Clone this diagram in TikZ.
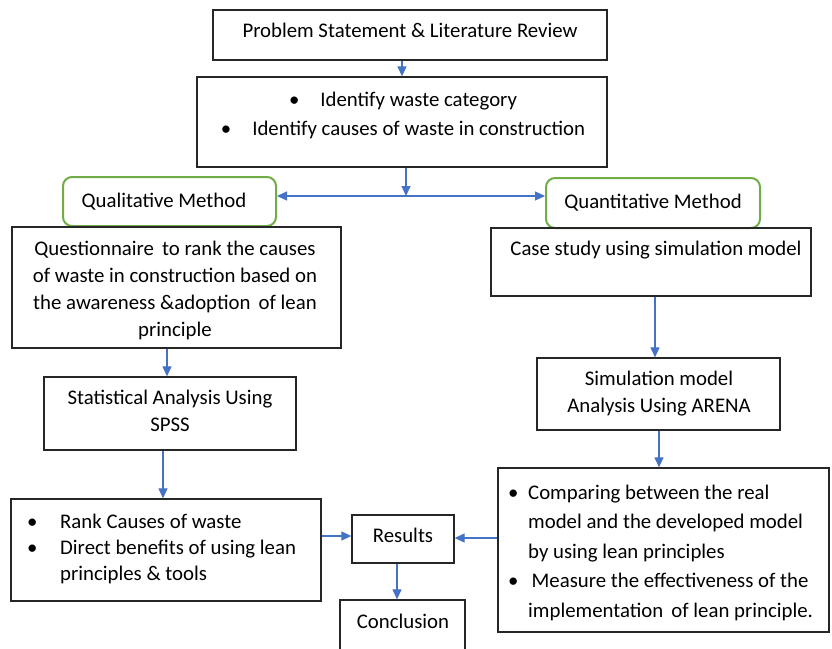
\documentclass[tikz,border=0pt]{standalone}
\usepackage{fontspec}
\setmainfont{Carlito}
\usetikzlibrary{arrows.meta}
\definecolor{flowblue}{HTML}{4472C4}
\definecolor{methodgreen}{HTML}{70AD47}
\tikzset{
  box/.style={draw=black!85, line width=1.3pt, inner sep=0pt},
  method/.style={draw=methodgreen, line width=2pt, rounded corners=9pt, inner sep=0pt},
  txt/.style={inner sep=0pt, font=\fontsize{20.8}{27}\selectfont, align=center},
  arr/.style={draw=flowblue, line width=1.2pt, -{Triangle[length=10pt,width=9pt]}},
  darr/.style={draw=flowblue, line width=1.2pt, {Triangle[length=10pt,width=9pt]}-{Triangle[length=10pt,width=9pt]}}
}
\begin{document}
\begin{tikzpicture}[x=1pt,y=-1pt]
\useasboundingbox (0,0) rectangle (832,648);

% boxes
\node[box, minimum width=394, minimum height=50] (prob) at (410,35) {};
\node[box, minimum width=410, minimum height=90] (ident) at (402,122) {};
\node[method, minimum width=213, minimum height=49] (qual) at (169.5,201.5) {};
\node[method, minimum width=214, minimum height=50] (quant) at (653,203) {};
\node[box, minimum width=329, minimum height=121] (quest) at (176.5,287.5) {};
\node[box, minimum width=320, minimum height=68] (case) at (651,262) {};
\node[box, minimum width=243, minimum height=72] (sim) at (658.5,394) {};
\node[box, minimum width=252, minimum height=73] (stat) at (170,413.5) {};
\node[box, minimum width=310, minimum height=102] (rank) at (166,550) {};
\node[box, minimum width=102, minimum height=48] (res) at (403,539) {};
\node[box, minimum width=331, minimum height=164] (comp) at (663.5,550) {};
\node[box, minimum width=125, minimum height=60] (concl) at (402.5,630) {};

% texts
\node[txt] (probt) at (410,30) {Problem Statement \& Literature Review};
\node[txt, font=\fontsize{20.8}{29}\selectfont] (identt) at (403,115)
  {\textbullet\hspace{21pt}Identify waste category\\
   \textbullet\hspace{21pt}Identify causes of waste in construction};
\node[txt] (qualt) at (164,201.5) {Qualitative Method};
\node[txt] (quantt) at (653,202.5) {Quantitative Method};
\node[txt] (questt) at (175,290)
  {Questionnaire\, to rank the causes\\ of waste in construction based on\\
   the awareness \&adoption\, of lean\\ principle};
\node[txt] (caset) at (656,250) {Case study using simulation model};
\node[txt] (simt) at (659,394) {Simulation model\\ Analysis Using ARENA};
\node[txt] (statt) at (170,411) {Statistical Analysis Using\\ SPSS};
\node[txt, anchor=north west, font=\fontsize{20.8}{26}\selectfont] (rankt) at (27,510)
  {\begin{tabular}{@{}p{33pt}@{}l@{}}
   \textbullet & Rank Causes of waste\\
   \textbullet & Direct benefits of using lean\\
               & principles \& tools
   \end{tabular}};
\node[txt] (rest) at (403,535) {Results};
\node[txt, anchor=north west, font=\fontsize{20.8}{29.5}\selectfont] (compt) at (508,478.5)
  {\begin{tabular}{@{}p{20pt}@{}l@{}}
   \textbullet & Comparing between the real\\
               & model and the developed model\\
               & by using lean principles\\
   \textbullet & \,Measure the effectiveness of the\\
               & implementation\, of lean principle.
   \end{tabular}};
\node[txt] (conclt) at (403,621) {Conclusion};

% connectors
\coordinate (split) at (406,196);
\draw[arr] (prob.south -| 402,0) -- (ident.north -| 402,0);
\draw[arr] (ident.south -| split) -- (split);
\draw[darr] (qual.east |- split) -- (quant.west |- split);
\draw[arr] (quest.south -| 167,0) -- (stat.north -| 167,0);
\draw[arr] (stat.south -| 163,0) -- (rank.north -| 163,0);
\draw[arr] (case.south -| 655,0) -- (sim.north -| 655,0);
\draw[arr] (sim.south -| 659,0) -- (comp.north -| 659,0);
\draw[arr] (rank.east |- 0,536) -- (res.west |- 0,536);
\draw[arr] (comp.west |- 0,538) -- (res.east |- 0,538);
\draw[arr] (res.south -| 397,0) -- (concl.north -| 397,0);
\end{tikzpicture}
\end{document}
